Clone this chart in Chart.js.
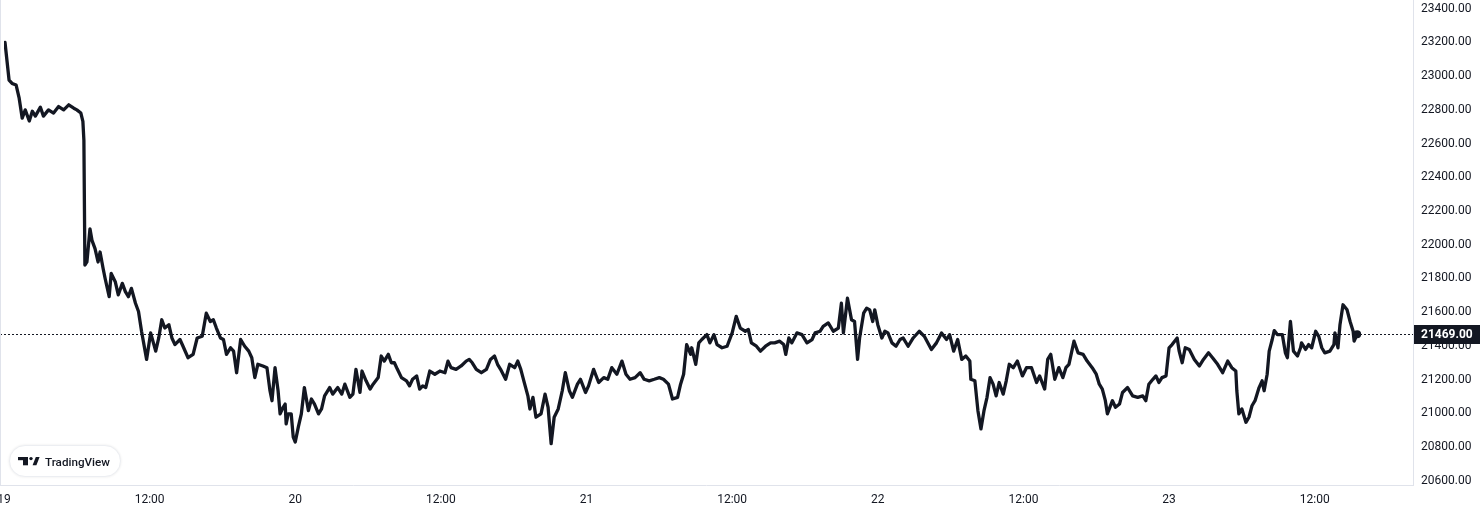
<!DOCTYPE html>
<html>
<head>
<meta charset="utf-8">
<title>BTC 5 days</title>
<script src="https://cdn.jsdelivr.net/npm/chart.js@4.4.0/dist/chart.umd.min.js"></script>
<style>
  html, body { margin: 0; padding: 0; background: #fff; }
  #wrap { width: 1480px; height: 509px; position: relative; }
</style>
</head>
<body>
<div id="wrap"><canvas id="chart"></canvas></div>
<script>
// minutes since 19 Jan 00:00
const mins = [
  5, 25, 40, 60, 75, 90, 105, 125, 140, 155, 180, 195, 220, 245, 270, 295, 320, 345, 360, 380,
  390, 395, 400, 410, 425, 435, 450, 465, 475, 490, 500, 520, 530, 550, 565, 585, 600, 615, 630, 650,
  665, 680, 705, 725, 750, 765, 780, 795, 815, 830, 845, 870, 885, 910, 935, 955, 980, 1000, 1020, 1035,
  1050, 1070, 1085, 1100, 1120, 1135, 1150, 1170, 1190, 1210, 1225, 1240, 1255, 1280, 1300, 1315, 1325, 1340, 1355, 1365,
  1380, 1390, 1395, 1405, 1420, 1430, 1440, 1455, 1470, 1485, 1505, 1520, 1535, 1555, 1570, 1585, 1610, 1625, 1650, 1670,
  1685, 1710, 1725, 1740, 1760, 1770, 1790, 1810, 1825, 1850, 1865, 1880, 1900, 1915, 1930, 1945, 1965, 1990, 2005, 2020,
  2040, 2055, 2070, 2085, 2105, 2130, 2155, 2180, 2195, 2210, 2235, 2260, 2285, 2300, 2315, 2335, 2360, 2385, 2405, 2425,
  2440, 2455, 2480, 2500, 2525, 2540, 2555, 2570, 2590, 2600, 2615, 2630, 2655, 2675, 2690, 2705, 2720, 2740, 2760, 2775,
  2795, 2810, 2835, 2850, 2875, 2890, 2915, 2940, 2965, 2985, 3005, 3030, 3055, 3075, 3095, 3120, 3145, 3165, 3190, 3215,
  3240, 3260, 3285, 3305, 3330, 3345, 3360, 3375, 3395, 3400, 3420, 3435, 3450, 3475, 3490, 3510, 3525, 3550, 3575, 3600,
  3620, 3640, 3665, 3680, 3695, 3720, 3740, 3765, 3790, 3810, 3835, 3855, 3865, 3880, 3895, 3920, 3945, 3970, 3995, 4010,
  4035, 4050, 4075, 4100, 4125, 4140, 4150, 4170, 4190, 4205, 4220, 4230, 4250, 4265, 4280, 4295, 4305, 4320, 4340, 4355,
  4370, 4390, 4410, 4430, 4445, 4470, 4495, 4525, 4550, 4585, 4610, 4635, 4660, 4675, 4695, 4715, 4735, 4755, 4775, 4780,
  4800, 4815, 4830, 4845, 4860, 4875, 4890, 4905, 4920, 4940, 4955, 4970, 4990, 5010, 5035, 5055, 5080, 5105, 5120, 5145,
  5160, 5175, 5195, 5215, 5235, 5250, 5265, 5290, 5310, 5335, 5355, 5380, 5400, 5415, 5430, 5445, 5455, 5480, 5495, 5515,
  5530, 5555, 5580, 5605, 5630, 5645, 5660, 5680, 5695, 5710, 5725, 5745, 5760, 5775, 5800, 5810, 5825, 5840, 5860, 5885,
  5910, 5930, 5955, 5975, 6000, 6025, 6050, 6070, 6090, 6095, 6105, 6120, 6140, 6155, 6170, 6185, 6205, 6220, 6230, 6245,
  6255, 6270, 6280, 6295, 6320, 6335, 6345, 6360, 6375, 6395, 6410, 6415, 6435, 6450, 6465, 6485, 6500, 6515, 6530, 6555,
  6575, 6580, 6595, 6605, 6620, 6640, 6655, 6670, 6675, 6690
];

const prices = [
  23200, 22977, 22957, 22947, 22869, 22751, 22800, 22734, 22792, 22763, 22816, 22763, 22800, 22781, 22820, 22800, 22830, 22810, 22800, 22781,
  22732, 22620, 21880, 21898, 22094, 22026, 21977, 21898, 21957, 21859, 21800, 21692, 21830, 21781, 21703, 21771, 21722, 21692, 21741, 21653,
  21604, 21487, 21320, 21477, 21369, 21447, 21555, 21506, 21526, 21447, 21408, 21438, 21398, 21330, 21350, 21447, 21457, 21594, 21545, 21555,
  21506, 21447, 21438, 21350, 21389, 21369, 21241, 21438, 21398, 21369, 21330, 21212, 21291, 21281, 21271, 21134, 21075, 21271, 21134, 20997,
  21036, 21055, 20938, 20997, 20997, 20859, 20830, 20918, 20997, 21153, 21016, 21085, 21055, 20997, 21026, 21104, 21153, 21114, 21153, 21114,
  21173, 21095, 21114, 21261, 21124, 21251, 21193, 21144, 21173, 21212, 21340, 21310, 21350, 21300, 21300, 21261, 21212, 21193, 21163, 21202,
  21222, 21144, 21163, 21153, 21251, 21232, 21251, 21241, 21310, 21271, 21261, 21281, 21310, 21320, 21300, 21261, 21241, 21261, 21320, 21340,
  21291, 21261, 21202, 21291, 21271, 21310, 21261, 21193, 21104, 21026, 21095, 20977, 20997, 21114, 21036, 20820, 20977, 21026, 21134, 21241,
  21134, 21095, 21173, 21202, 21124, 21163, 21261, 21183, 21212, 21202, 21271, 21232, 21310, 21232, 21202, 21212, 21241, 21202, 21193, 21202,
  21212, 21202, 21173, 21085, 21095, 21173, 21232, 21408, 21350, 21389, 21291, 21418, 21438, 21467, 21418, 21467, 21408, 21389, 21398, 21477,
  21575, 21506, 21487, 21497, 21418, 21398, 21369, 21398, 21418, 21418, 21428, 21408, 21350, 21447, 21418, 21477, 21467, 21418, 21438, 21477,
  21487, 21516, 21536, 21487, 21506, 21653, 21477, 21683, 21555, 21545, 21320, 21447, 21594, 21624, 21614, 21545, 21614, 21526, 21447, 21487,
  21477, 21418, 21398, 21438, 21447, 21398, 21447, 21487, 21457, 21379, 21418, 21477, 21438, 21467, 21369, 21438, 21320, 21340, 21310, 21202,
  21193, 21016, 20908, 21016, 21095, 21212, 21173, 21104, 21183, 21114, 21193, 21291, 21271, 21310, 21222, 21271, 21271, 21183, 21222, 21144,
  21320, 21350, 21202, 21271, 21212, 21271, 21291, 21428, 21359, 21350, 21310, 21271, 21232, 21173, 21144, 21075, 20997, 21075, 21036, 21055,
  21124, 21153, 21104, 21095, 21104, 21075, 21173, 21202, 21222, 21183, 21212, 21222, 21389, 21408, 21447, 21369, 21300, 21389, 21379, 21320,
  21281, 21320, 21359, 21330, 21291, 21241, 21310, 21271, 21251, 21134, 20997, 21026, 20947, 20977, 21045, 21075, 21153, 21193, 21134, 21232,
  21369, 21438, 21491, 21467, 21467, 21359, 21330, 21545, 21369, 21340, 21389, 21418, 21379, 21408, 21389, 21487, 21457, 21389, 21359, 21369,
  21408, 21477, 21389, 21526, 21644, 21614, 21545, 21487, 21428, 21469
];

const lastPrice = 21469;
const dayLabels = ['19', '20', '21', '22', '23'];
const noonLabel = '12:00';
const yMin = 20575;
const yMax = 23428;
const yStep = 200;
const xMaxHours = 116.1;

const ink = '#131722';
const edge = '#e0e3eb';
const font = 'Roboto, "Noto Sans", sans-serif';

const points = mins.map((m, i) => ({ x: m / 60, y: prices[i] }));

const tvPlugin = {
  id: 'tvPlugin',
  beforeDatasetsDraw(chart) {
    const { ctx, chartArea: a, scales: { y } } = chart;
    const py = Math.round(y.getPixelForValue(lastPrice)) + 0.5;
    ctx.save();
    ctx.strokeStyle = ink;
    ctx.lineWidth = 1;
    ctx.setLineDash([2, 2]);
    ctx.beginPath();
    ctx.moveTo(0, py);
    ctx.lineTo(a.right, py);
    ctx.stroke();
    ctx.restore();
  },
  afterDraw(chart) {
    const { ctx, chartArea: a, scales: { y } } = chart;
    ctx.save();
    // frame lines
    ctx.strokeStyle = edge;
    ctx.lineWidth = 1;
    ctx.beginPath();
    ctx.moveTo(0.5, 0);
    ctx.lineTo(0.5, a.bottom);
    ctx.moveTo(0, a.bottom + 0.5);
    ctx.lineTo(a.right, a.bottom + 0.5);
    ctx.moveTo(a.right + 0.5, 0);
    ctx.lineTo(a.right + 0.5, a.bottom + 1);
    ctx.stroke();

    // last price tag
    const py = y.getPixelForValue(lastPrice);
    ctx.fillStyle = ink;
    ctx.fillRect(a.right + 1, Math.round(py) - 9, chart.width - a.right - 1, 19);
    ctx.fillStyle = '#ffffff';
    ctx.font = 'bold 12px ' + font;
    ctx.textAlign = 'left';
    ctx.textBaseline = 'middle';
    ctx.fillText(lastPrice.toFixed(2), a.right + 8, Math.round(py) + 0.5);

    // TradingView badge
    ctx.shadowColor = 'rgba(0,0,0,0.12)';
    ctx.shadowBlur = 3;
    ctx.fillStyle = '#ffffff';
    ctx.beginPath();
    ctx.roundRect(9.5, 445.5, 111, 31, 15.5);
    ctx.fill();
    ctx.shadowColor = 'transparent';
    ctx.strokeStyle = '#eceef2';
    ctx.stroke();

    ctx.fillStyle = ink;
    ctx.fillRect(18, 457, 10, 3.2);
    ctx.fillRect(23, 457, 5, 8.3);
    ctx.beginPath();
    ctx.arc(31, 458.6, 1.7, 0, Math.PI * 2);
    ctx.fill();
    ctx.beginPath();
    ctx.moveTo(32.6, 465.3);
    ctx.lineTo(36.4, 465.3);
    ctx.lineTo(39.6, 457);
    ctx.lineTo(35.8, 457);
    ctx.closePath();
    ctx.fill();

    let fs = 13;
    ctx.font = '500 ' + fs + 'px ' + font;
    fs = fs * 65 / ctx.measureText('TradingView').width;
    ctx.font = '500 ' + fs.toFixed(2) + 'px ' + font;
    ctx.textBaseline = 'alphabetic';
    ctx.fillText('TradingView', 45, 465.5);
    ctx.restore();
  }
};

new Chart(document.getElementById('chart'), {
  type: 'line',
  data: {
    datasets: [{
      data: points,
      borderColor: ink,
      borderWidth: 3.3,
      borderJoinStyle: 'round',
      borderCapStyle: 'round',
      tension: 0,
      pointRadius: ctx => ctx.dataIndex === points.length - 1 ? 4 : 0,
      pointBackgroundColor: ink,
      pointBorderWidth: 0,
      pointHoverRadius: 0
    }]
  },
  options: {
    responsive: true,
    maintainAspectRatio: false,
    animation: false,
    layout: { padding: 0 },
    plugins: { legend: { display: false }, tooltip: { enabled: false } },
    scales: {
      x: {
        type: 'linear',
        min: 0,
        max: xMaxHours,
        grid: { display: false, drawTicks: false },
        border: { display: false },
        ticks: {
          stepSize: 12,
          includeBounds: false,
          maxRotation: 0,
          autoSkip: false,
          padding: 8,
          color: ink,
          font: { family: font, size: 12 },
          callback: v => (v % 24 === 0 ? dayLabels[v / 24] : noonLabel)
        },
        afterFit: s => { s.paddingLeft = 0; s.paddingRight = 0; s.height = 24; }
      },
      y: {
        position: 'right',
        min: yMin,
        max: yMax,
        grid: { display: false, drawTicks: false },
        border: { display: false },
        ticks: {
          stepSize: yStep,
          includeBounds: false,
          padding: 8,
          color: ink,
          font: { family: font, size: 12 },
          callback: v => v.toFixed(2)
        },
        afterFit: s => { s.paddingTop = 0; s.paddingBottom = 0; s.width = 67; }
      }
    }
  },
  plugins: [tvPlugin]
});
</script>
</body>
</html>
